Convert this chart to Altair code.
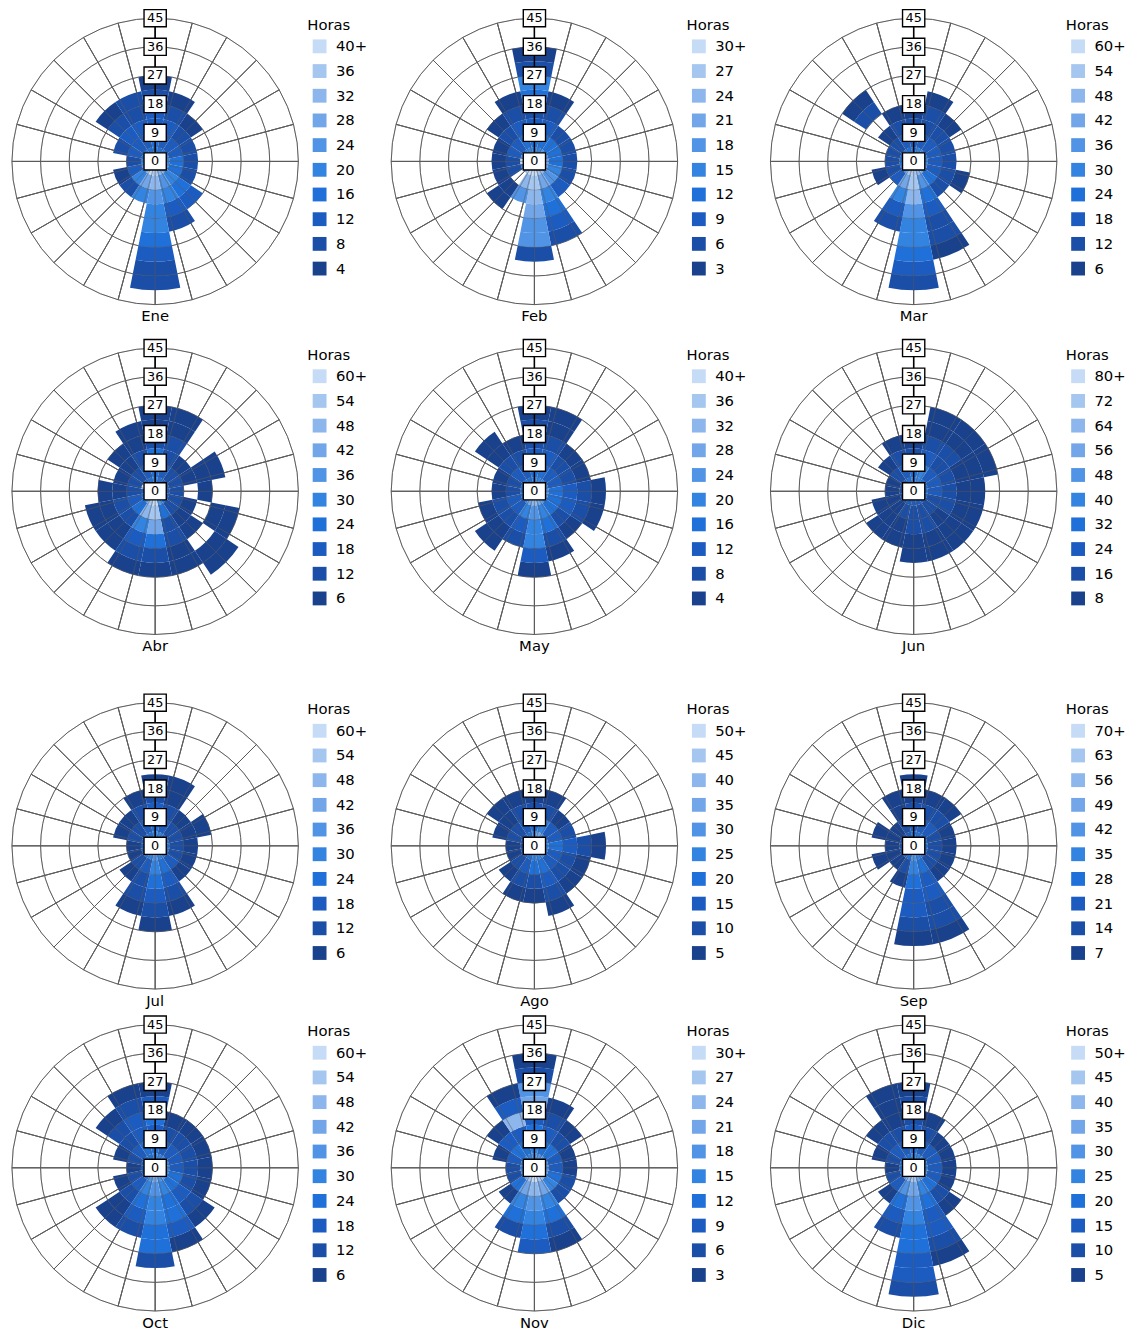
import math
import altair as alt
import pandas as pd

# ---------------- data (hours per direction, speed bins of 4.5 from the centre) -------------
DIRS = ["N", "NNE", "NE", "ENE", "E", "ESE", "SE", "SSE",
        "S", "SSW", "SW", "WSW", "W", "WNW", "NW", "NNW"]
MONTHS = ["Ene", "Feb", "Mar", "Abr", "May", "Jun",
          "Jul", "Ago", "Sep", "Oct", "Nov", "Dic"]
STEPS = [4, 3, 6, 6, 4, 8, 6, 5, 7, 6, 3, 5]          # legend step per month
RING_TICKS = [0, 9, 18, 27, 36, 45]
BIN_WIDTH = 4.5
SECTOR = 22.5
SPOKE = 15
# legend colours, from highest class (light) to lowest (dark)
COLORS = ["#c6dbf5", "#a5c6ef", "#8cb6ec", "#72a6e8", "#5193e4",
          "#3383e0", "#1f70d8", "#1c5cc0", "#1b4ea6", "#1a418c"]

ENE = [[16, 16, 12, 12, 8, 4], [16, 12, 12, 8, 4], [16, 12, 8, 4], [20, 12, 8],
       [20, 16, 8], [24, 16, 8], [28, 20, 16, 12], [32, 24, 20, 12, 8],
       [36, 32, 24, 20, 20, 16, 12, 8, 8], [40, 28, 20], [28, 20, 8], [24, 12, 4],
       [20, 8], [16, 12, 8], [16, 12, 12, 8, 4], [16, 12, 12, 8, 8]]
FEB = [[15, 12, 9, 6, 12, 15, 6, 3], [15, 12, 9, 6, 3], [18, 12, 6], [18, 12, 6],
       [21, 12, 6], [21, 15, 6], [24, 18, 9], [27, 21, 15, 12, 9, 6],
       [30, 27, 24, 21, 18, 18, 6], [30, 24, 18], [24, 0, 3, 3], [15, 6, 3],
       [30, 6, 3], [18, 9, 3], [12, 9, 6, 3], [15, 12, 9, 6, 3]]
MAR = [[24, 18, 12, 6], [30, 18, 12, 12, 6], [30, 18, 12, 6], [30, 18, 12],
       [30, 18, 12], [36, 18, 12, 6], [42, 24, 12], [48, 36, 24, 18, 12, 12, 6],
       [54, 54, 48, 36, 30, 30, 24, 18, 12], [54, 42, 30, 18, 12], [36, 18], [30, 12, 6],
       [24, 12], [24, 12], [24, 12, 6, 0, 12, 6], [24, 18, 12, 6]]
ABR = [[30, 24, 24, 12, 6, 6], [24, 18, 12, 12, 6, 6], [18, 12, 6], [18, 12, 6, 6, 6],
       [18, 12, 0, 6], [18, 12, 6, 0, 6, 6], [24, 12, 6, 6, 0, 6, 6], [36, 24, 12, 12, 6, 6],
       [60, 54, 42, 24, 12, 6], [54, 48, 30, 18, 12, 6], [36, 24, 12, 6, 6], [24, 18, 12, 6, 6],
       [18, 12, 6, 6], [60, 12, 6], [18, 12, 6, 6], [24, 18, 12, 6, 6]]
MAY = [[20, 16, 12, 8, 8, 4], [20, 16, 12, 8, 4, 4], [20, 12, 8, 4], [20, 12, 8, 4],
       [24, 16, 12, 8, 4], [24, 16, 12, 8, 4], [24, 16, 8, 4], [28, 20, 16, 8, 4],
       [32, 24, 20, 20, 12, 4], [28, 20, 12, 8], [20, 12, 8, 4, 4], [16, 12, 8, 4],
       [16, 8, 4], [16, 8, 4], [16, 12, 8, 4, 4], [16, 12, 8, 4]]
JUN = [[40, 32, 16, 8], [40, 40, 24, 16, 8, 8], [32, 24, 16, 16, 8, 8], [32, 24, 16, 8, 8, 8],
       [32, 24, 16, 8, 8], [32, 16, 16, 8, 8], [24, 16, 8, 8, 8], [24, 16, 16, 8, 8],
       [24, 16, 16, 8, 8], [24, 16, 8, 8], [16, 8, 8, 8], [16, 8, 8],
       [16, 8], [16, 8], [24, 16, 8], [32, 24, 16, 8]]
JUL = [[30, 24, 18, 12, 6], [30, 18, 12, 6, 6], [24, 12, 6], [24, 12, 6, 6],
       [24, 12, 6], [24, 12, 6], [24, 18, 6], [30, 24, 18, 12, 6],
       [36, 30, 24, 18, 12, 6], [30, 18, 12, 12, 6], [24, 12, 6], [18, 6],
       [18, 6], [18, 12, 6], [24, 12, 6], [24, 18, 12, 6]]
AGO = [[30, 20, 10, 5], [35, 25, 10, 5], [25, 15, 5], [25, 15, 10],
       [25, 20, 15, 10, 5], [25, 15, 10, 5], [25, 15, 10, 5], [25, 20, 15, 10, 5],
       [25, 20, 10, 5], [20, 15, 10, 5], [15, 10, 5], [15, 5],
       [10, 5], [15, 10, 5], [15, 10, 5, 5], [20, 15, 10, 5]]
SEP = [[28, 21, 14, 7, 7], [28, 21, 14, 7], [28, 21, 14, 7], [28, 14, 7],
       [28, 14, 7], [28, 14, 7], [28, 14, 7], [35, 28, 21, 21, 14, 14, 7],
       [42, 35, 28, 21, 21, 14, 7], [28, 14, 7], [21, 7], [14, 7, 7],
       [14, 7], [14, 7, 7], [14, 7], [21, 14, 7, 7]]
OCT = [[30, 24, 18, 24, 18, 6], [30, 18, 12, 6], [30, 18, 12, 6], [30, 18, 12, 6],
       [30, 18, 12, 6], [30, 24, 12, 6], [36, 24, 18, 12, 6], [36, 30, 24, 24, 18, 6],
       [42, 36, 30, 30, 24, 24, 12], [36, 30, 24, 18, 12], [24, 18, 12, 6, 6], [18, 12, 6],
       [18, 6], [18, 12, 6], [24, 18, 12, 12, 6], [24, 24, 18, 18, 12, 6]]
NOV = [[18, 15, 12, 9, 21, 18, 6, 3], [18, 12, 9, 6, 3], [18, 12, 6, 3], [18, 9, 3],
       [18, 9, 3], [21, 12, 6], [24, 15, 6], [27, 21, 15, 12, 6, 3],
       [30, 24, 18, 15, 12, 9], [27, 21, 15, 12, 6], [21, 12, 3], [18, 6],
       [15, 6], [15, 9, 3], [15, 12, 9, 3], [15, 12, 9, 24, 9, 3]]
DIC = [[25, 20, 15, 10, 10, 5], [25, 15, 10, 5], [25, 15, 5], [25, 15, 5],
       [25, 15, 5], [30, 15, 5], [30, 20, 10, 5], [35, 25, 20, 15, 15, 10, 5],
       [45, 35, 30, 25, 20, 20, 15, 15, 10], [40, 30, 20, 15, 10], [30, 15, 5], [20, 10],
       [20, 5], [20, 10, 5], [20, 15, 10, 5], [20, 15, 10, 5, 5, 5]]
MONTH_DATA = [ENE, FEB, MAR, ABR, MAY, JUN, JUL, AGO, SEP, OCT, NOV, DIC]

# ---------------- geometry / style -------------
R = 145
SIZE = 2 * R
FONT = "DejaVu Sans"
GRID = "#5c5c5c"

theta_scale = alt.Scale(type="linear", domain=[0, 360], range=[0, 2 * math.pi])
radius_scale = alt.Scale(type="linear", domain=[0, RING_TICKS[-1]], range=[0, R],
                         zero=True, nice=False)
xy_scale = alt.Scale(domain=[-RING_TICKS[-1], RING_TICKS[-1]], nice=False, zero=False)


def legend_domain(step):
    return [f"{10 * step}+"] + [str(k * step) for k in range(9, 0, -1)]


def cells_frame(values, step):
    rows = []
    for d, bins in enumerate(values):
        for i, h in enumerate(bins):
            if h <= 0:
                continue
            level = min(10, math.ceil(h / step))
            label = f"{10 * step}+" if level == 10 else str(level * step)
            rows.append(dict(dir=DIRS[d], t0=d * SECTOR - SECTOR / 2, t1=d * SECTOR + SECTOR / 2,
                             r0=i * BIN_WIDTH, r1=(i + 1) * BIN_WIDTH, horas=h, clase=label))
    return pd.DataFrame(rows)


spokes = pd.DataFrame({"g0": list(range(0, 360, SPOKE))})
spokes["g1"] = spokes["g0"] + SPOKE
spokes["gr"] = RING_TICKS[-1]
rings = pd.DataFrame({"rr": RING_TICKS[1:-1]})
rings["a0"] = 0
rings["a1"] = 360
ticks = pd.DataFrame({"x": [0] * len(RING_TICKS), "y": RING_TICKS,
                      "lab": [str(t) for t in RING_TICKS]})
axis_line = pd.DataFrame({"x": [0], "y0": [0], "y1": [RING_TICKS[-1]]})

BOX = "M-1.3,-1L1.3,-1L1.3,1L-1.3,1Z"


def grid_layers(opacity):
    spk = alt.Chart(spokes).mark_arc(fillOpacity=0, stroke=GRID, strokeWidth=1,
                                     strokeOpacity=opacity).encode(
        theta=alt.Theta("g0:Q", scale=theta_scale, stack=False),
        theta2="g1:Q",
        radius=alt.Radius("gr:Q", scale=radius_scale),
    )
    rng = alt.Chart(rings).mark_arc(fillOpacity=0, stroke=GRID, strokeWidth=1,
                                    strokeOpacity=opacity).encode(
        theta=alt.Theta("a0:Q", scale=theta_scale, stack=False),
        theta2="a1:Q",
        radius=alt.Radius("rr:Q", scale=radius_scale),
    )
    return [spk, rng]


def panel(m):
    step = STEPS[m]
    df = cells_frame(MONTH_DATA[m], step)
    cells = alt.Chart(df).mark_arc(strokeWidth=0).encode(
        theta=alt.Theta("t0:Q", scale=theta_scale, stack=False),
        theta2="t1:Q",
        radius=alt.Radius("r1:Q", scale=radius_scale),
        radius2="r0:Q",
        color=alt.Color("clase:N", title="Horas",
                        scale=alt.Scale(domain=legend_domain(step), range=COLORS)),
        tooltip=["dir:N", "r0:Q", "r1:Q", "horas:Q"],
    )
    line = alt.Chart(axis_line).mark_rule(color="black", strokeWidth=1.5).encode(
        x=alt.X("x:Q", scale=xy_scale, axis=None),
        y=alt.Y("y0:Q", scale=xy_scale, axis=None),
        y2="y1:Q",
    )
    boxes = alt.Chart(ticks).mark_point(shape=BOX, size=300, filled=True, fill="white",
                                        stroke="black", strokeWidth=1.4, opacity=1).encode(
        x=alt.X("x:Q", scale=xy_scale, axis=None),
        y=alt.Y("y:Q", scale=xy_scale, axis=None),
    )
    labels = alt.Chart(ticks).mark_text(font=FONT, fontSize=13, color="black").encode(
        x=alt.X("x:Q", scale=xy_scale, axis=None),
        y=alt.Y("y:Q", scale=xy_scale, axis=None),
        text="lab:N",
    )
    layers = grid_layers(1.0) + [cells] + grid_layers(0.3) + [line, boxes, labels]
    return alt.layer(*layers).properties(
        width=SIZE, height=SIZE,
        title=alt.TitleParams(MONTHS[m], orient="bottom", frame="group", offset=3,
                              font=FONT, fontSize=15, fontWeight="normal"),
    )


def row(ms):
    return alt.hconcat(*[panel(m) for m in ms], spacing=22).resolve_scale(
        color="independent").resolve_legend(color="independent")


top = alt.vconcat(row([0, 1, 2]), row([3, 4, 5]), spacing=12).resolve_scale(
    color="independent").resolve_legend(color="independent")
bottom = alt.vconcat(row([6, 7, 8]), row([9, 10, 11]), spacing=4).resolve_scale(
    color="independent").resolve_legend(color="independent")

chart = alt.vconcat(top, bottom, spacing=37).resolve_scale(
    color="independent").resolve_legend(color="independent").properties(
    padding={"left": 2, "top": -10, "right": 0, "bottom": 0}
).configure_view(strokeWidth=0).configure_legend(
    titleFont=FONT, titleFontSize=15, titleFontWeight="normal", titleColor="black",
    labelFont=FONT, labelFontSize=15, labelColor="black",
    symbolType="square", symbolSize=196, symbolStrokeWidth=0, symbolOpacity=1,
    rowPadding=9, titlePadding=6, offset=9, symbolOffset=5, padding=0, labelOffset=9,
)

chart.save("out.html", embed_options={"renderer": "svg", "actions": False})
